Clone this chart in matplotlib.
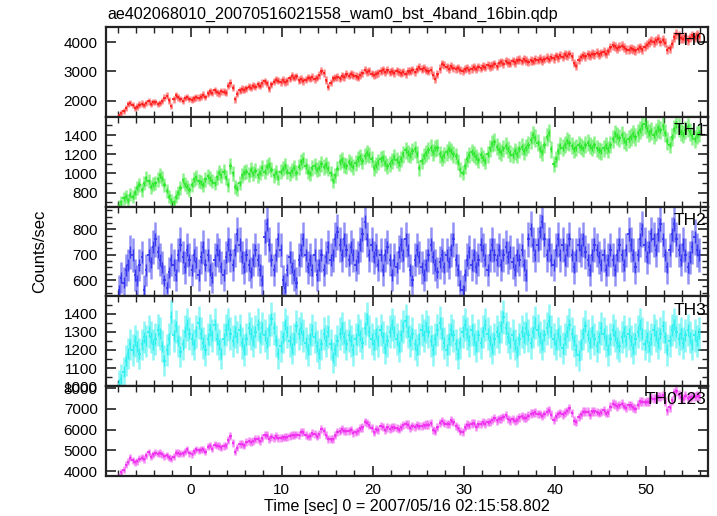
import numpy as np
import matplotlib.pyplot as plt
from matplotlib.ticker import MultipleLocator

plt.rcParams['font.family'] = ['Liberation Sans', 'DejaVu Sans']

# tiempo: bines de 0.25 s desde -8 s
dt = 0.25
t0 = -8.0

# TH0 (cuentas/s), 4 valores por segundo
th0 = [1500, 1580, 1650, 1760, 1880, 1930, 1850, 1760,
       1800, 1870, 1900, 1850, 1920, 1980, 1900, 1950,
       1960, 1880, 1920, 1990, 2100, 2170, 2010, 1820,
       2050, 2180, 2120, 2060, 2000, 2090, 2130, 2060,
       2040, 2080, 2120, 2100, 2140, 2200, 2130, 2250,
       2320, 2270, 2350, 2290, 2260, 2330, 2310, 2280,
       2520, 2610, 2450, 2050, 2240, 2350, 2400, 2380,
       2420, 2480, 2440, 2520, 2480, 2560, 2520, 2600,
       2660, 2590, 2420, 2560, 2650, 2720, 2690, 2640,
       2700, 2640, 2680, 2760, 2850, 2790, 2830, 2700,
       2740, 2680, 2720, 2790, 2760, 2810, 2740, 2790,
       2880, 3000, 2950, 2700, 2480, 2620, 2760, 2790,
       2810, 2760, 2850, 2820, 2900, 2860, 2920, 2870,
       2840, 2800, 2880, 2950, 3050, 2990, 3020, 2930,
       2880, 2920, 2960, 3010, 3060, 2980, 3040, 2970,
       3010, 2960, 3020, 2980, 2940, 2990, 2920, 3010,
       3000, 3060, 2980, 3080, 3150, 3080, 3120, 3040,
       3000, 3050, 2880, 2740, 2900, 3100, 3260, 3220,
       3160, 3100, 3180, 3120, 3090, 3130, 3060, 3020,
       3070, 3120, 3050, 3100, 3140, 3090, 3160, 3110,
       3180, 3140, 3220, 3170, 3200, 3260, 3180, 3290,
       3330, 3270, 3350, 3300, 3280, 3360, 3310, 3390,
       3400, 3350, 3420, 3370, 3330, 3380, 3350, 3410,
       3390, 3440, 3380, 3420, 3470, 3420, 3490, 3450,
       3530, 3480, 3560, 3510, 3580, 3540, 3600, 3520,
       3280, 3200, 3400, 3500, 3560, 3520, 3590, 3550,
       3610, 3580, 3640, 3590, 3630, 3680, 3610, 3700,
       3820, 3900, 3860, 3790, 3850, 3880, 3820, 3760,
       3740, 3790, 3760, 3720, 3780, 3820, 3760, 3850,
       3920, 3980, 4050, 4010, 4060, 4120, 4020, 4080,
       3980, 3740, 3800, 3950, 4180, 4290, 4230, 4150,
       4120, 4200, 4080, 4160, 4230, 4180, 4260, 4200]

th1 = [660, 700, 740, 760, 720, 780, 760, 800,
       850, 880, 830, 900, 950, 920, 860, 890,
       900, 940, 980, 950, 880, 820, 760, 720,
       700, 760, 800, 850, 930, 890, 860, 830,
       880, 940, 960, 920, 910, 880, 940, 970,
       950, 920, 900, 960, 1010, 980, 1020, 960,
       880, 1080, 1000, 860, 840, 900, 980, 1010,
       1020, 990, 1040, 1000, 1030, 980, 1010, 1060,
       1020, 1070, 1090, 1040, 980, 1010, 960, 1020,
       1050, 1080, 1020, 1000, 1030, 1060, 1010, 1070,
       1120, 1140, 1080, 1020, 1000, 1060, 1080, 1040,
       1060, 1100, 1070, 1090, 1050, 1000, 930, 980,
       1050, 1120, 1140, 1090, 1080, 1120, 1100, 1070,
       1110, 1150, 1170, 1130, 1180, 1210, 1190, 1150,
       1060, 1090, 1120, 1150, 1160, 1110, 1080, 1100,
       1130, 1170, 1140, 1110, 1150, 1200, 1240, 1210,
       1190, 1230, 1250, 1200, 1060, 1130, 1180, 1210,
       1240, 1270, 1220, 1260, 1270, 1200, 1160, 1190,
       1220, 1250, 1230, 1200, 1180, 1120, 1040, 1010,
       1080, 1150, 1190, 1220, 1200, 1170, 1140, 1190,
       1160, 1130, 1200, 1260, 1310, 1330, 1280, 1240,
       1220, 1260, 1290, 1250, 1210, 1190, 1230, 1200,
       1250, 1280, 1230, 1270, 1300, 1350, 1400, 1370,
       1320, 1250, 1220, 1300, 1380, 1420, 1250, 1100,
       1150, 1230, 1290, 1270, 1300, 1340, 1320, 1290,
       1250, 1270, 1300, 1280, 1260, 1300, 1320, 1290,
       1270, 1300, 1260, 1240, 1230, 1260, 1290, 1250,
       1300, 1360, 1410, 1390, 1370, 1400, 1350, 1330,
       1360, 1380, 1410, 1380, 1420, 1450, 1490, 1510,
       1460, 1420, 1440, 1400, 1430, 1470, 1450, 1490,
       1420, 1340, 1300, 1380, 1460, 1510, 1480, 1430,
       1410, 1450, 1480, 1430, 1390, 1360, 1400, 1420]

th2 = [560, 610, 590, 640, 660, 710, 700, 620,
       600, 660, 690, 560, 640, 700, 670, 730,
       760, 710, 680, 650, 600, 570, 630, 680,
       660, 620, 700, 740, 690, 650, 720, 680,
       640, 700, 670, 620, 690, 730, 660, 700,
       640, 610, 680, 720, 700, 650, 620, 690,
       740, 700, 660, 720, 780, 740, 690, 650,
       700, 660, 630, 680, 720, 680, 640, 600,
       770, 820, 740, 680, 640, 700, 760, 720,
       600, 570, 640, 690, 650, 620, 590, 680,
       720, 760, 700, 650, 680, 640, 700, 620,
       660, 700, 640, 690, 730, 680, 700, 760,
       790, 740, 700, 760, 720, 680, 730, 700,
       660, 690, 740, 780, 830, 760, 700, 740,
       690, 720, 660, 700, 640, 700, 730, 680,
       620, 680, 650, 710, 740, 700, 760, 720,
       640, 600, 680, 720, 690, 650, 620, 660,
       700, 740, 690, 660, 630, 670, 700, 650,
       700, 670, 720, 760, 680, 640, 580, 560,
       620, 680, 710, 660, 700, 650, 680, 740,
       720, 680, 640, 700, 740, 700, 680, 720,
       660, 700, 730, 690, 710, 670, 640, 700,
       680, 720, 660, 620, 760, 800, 740, 700,
       740, 790, 830, 760, 700, 740, 680, 660,
       720, 760, 700, 740, 680, 720, 760, 700,
       650, 700, 740, 720, 760, 710, 680, 640,
       700, 740, 720, 690, 660, 700, 640, 680,
       720, 680, 640, 700, 740, 700, 660, 720,
       780, 740, 700, 650, 700, 760, 800, 740,
       690, 730, 780, 760, 720, 780, 820, 760,
       700, 650, 720, 780, 820, 760, 720, 680,
       740, 700, 650, 690, 730, 770, 720, 700]

th3 = [1010, 1040, 1080, 1140, 1180, 1230, 1200, 1250,
       1220, 1180, 1230, 1270, 1250, 1300, 1270, 1230,
       1260, 1310, 1290, 1220, 1140, 1200, 1260, 1380,
       1280, 1330, 1250, 1190, 1230, 1300, 1340, 1290,
       1260, 1230, 1300, 1350, 1290, 1240, 1200, 1260,
       1310, 1280, 1340, 1260, 1230, 1180, 1260, 1310,
       1340, 1290, 1250, 1300, 1270, 1310, 1240, 1200,
       1260, 1320, 1290, 1250, 1300, 1340, 1270, 1320,
       1280, 1240, 1310, 1370, 1320, 1250, 1180, 1220,
       1270, 1340, 1300, 1250, 1210, 1260, 1330, 1290,
       1320, 1280, 1240, 1200, 1260, 1310, 1270, 1220,
       1180, 1230, 1290, 1250, 1300, 1230, 1160, 1200,
       1250, 1290, 1320, 1270, 1230, 1280, 1250, 1200,
       1260, 1310, 1280, 1240, 1320, 1370, 1300, 1260,
       1230, 1290, 1250, 1310, 1270, 1210, 1250, 1300,
       1340, 1300, 1260, 1220, 1280, 1330, 1360, 1300,
       1250, 1290, 1230, 1200, 1260, 1310, 1280, 1330,
       1300, 1250, 1200, 1260, 1310, 1350, 1290, 1240,
       1200, 1260, 1310, 1280, 1230, 1180, 1240, 1300,
       1340, 1290, 1250, 1310, 1260, 1220, 1280, 1240,
       1300, 1340, 1290, 1250, 1210, 1260, 1300, 1270,
       1330, 1380, 1320, 1270, 1240, 1280, 1230, 1190,
       1260, 1300, 1270, 1320, 1280, 1240, 1300, 1350,
       1310, 1270, 1230, 1280, 1320, 1360, 1300, 1260,
       1230, 1290, 1250, 1210, 1260, 1300, 1340, 1290,
       1250, 1200, 1170, 1230, 1290, 1330, 1280, 1240,
       1300, 1260, 1220, 1270, 1320, 1290, 1250, 1200,
       1260, 1310, 1280, 1240, 1220, 1270, 1300, 1250,
       1290, 1250, 1210, 1260, 1300, 1340, 1290, 1230,
       1270, 1220, 1260, 1310, 1280, 1240, 1290, 1330,
       1270, 1200, 1250, 1310, 1340, 1300, 1260, 1290,
       1240, 1280, 1310, 1270, 1230, 1280, 1250, 1290]

etiquetas = ["TH0", "TH1", "TH2", "TH3", "TH0123"]
colores = ["#ff2020", "#30e830", "#3838f0", "#30f0f0", "#f030f0"]
limites_y = [(1450, 4520), (655, 1590), (536, 889), (1000, 1495), (3760, 8090)]
ticks_mayores = [1000, 200, 100, 100, 1000]
ticks_menores = [None, 100, 25, 50, None]

# la banda TH0123 es la suma de las cuatro bandas
th0123 = np.array(th0) + np.array(th1) + np.array(th2) + np.array(th3)
series = [np.array(th0), np.array(th1), np.array(th2), np.array(th3), th0123]
tiempo = t0 + dt * np.arange(len(th0)) + dt / 2

fig = plt.figure(figsize=(7.17, 5.16), dpi=100)
gs = fig.add_gridspec(5, 1, left=106/717, right=708/717, top=1-27/516, bottom=1-476/516, hspace=0)

for i in range(5):
    ax = fig.add_subplot(gs[i])
    y = series[i]
    err = 1.25 * np.sqrt(y / dt)  # error de Poisson (con tiempo muerto aprox.)
    col = colores[i]
    ax.vlines(tiempo, y - err, y + err, color=col, alpha=0.55, lw=1.8)
    ax.hlines(y, tiempo - dt/2, tiempo + dt/2, color=col, lw=1.3)
    ax.vlines(tiempo, y - err*0.35, y + err*0.35, color=col, lw=1.0)
    ax.set_xlim(-9.3, 56.85)
    ax.set_ylim(*limites_y[i])
    ax.xaxis.set_major_locator(MultipleLocator(10))
    ax.xaxis.set_minor_locator(MultipleLocator(2))
    ax.yaxis.set_major_locator(MultipleLocator(ticks_mayores[i]))
    if ticks_menores[i] is not None:
        ax.yaxis.set_minor_locator(MultipleLocator(ticks_menores[i]))
    ax.tick_params(which='both', direction='in', top=True, right=True, colors='#222222', labelcolor='black')
    ax.tick_params(which='major', length=7, width=1.2, labelsize=11)
    ax.tick_params(which='minor', length=4, width=1.0)
    ax.tick_params(axis='y', pad=6)
    ax.tick_params(axis='x', pad=5)
    for s in ax.spines.values():
        s.set_linewidth(1.6)
        s.set_color('#222222')
    if i < 4:
        ax.tick_params(axis='x', labelbottom=False)
    ax.text(0.997, 0.93, etiquetas[i], transform=ax.transAxes, ha='right', va='top', fontsize=12.5)

fig.text(107/717, 1-14/516, "ae402068010_20070516021558_wam0_bst_4band_16bin.qdp", ha='left', va='center', fontsize=11.6)
fig.text(40/717, 1-251/516, "Counts/sec", rotation=90, ha='center', va='center', fontsize=12)
fig.text(407/717, 1-507/516, "Time [sec] 0 = 2007/05/16 02:15:58.802", ha='center', va='center', fontsize=11.6)

fig.savefig("out.png", dpi=100)
